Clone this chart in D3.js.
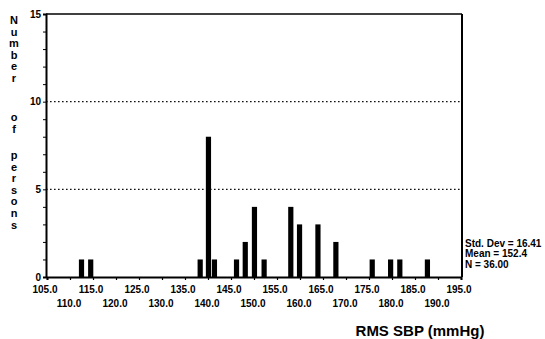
<!DOCTYPE html>
<html>
<head>
<meta charset="utf-8">
<script src="https://cdn.jsdelivr.net/npm/d3@7/dist/d3.min.js"></script>
<style>
  html, body { margin: 0; padding: 0; background: #fff; }
  svg { display: block; }
  text { font-family: "Liberation Sans", Arial, sans-serif; font-weight: bold; fill: #000; }
  .vword { writing-mode: vertical-rl; text-orientation: upright; }
</style>
</head>
<body>
<svg id="chart" width="545" height="339"></svg>
<script>
// Histogram of RMS systolic blood pressure (bin centres, mmHg) and counts
const sbpValues = [112.5, 114.5, 138.3, 140.1, 141.4, 146.2, 148.1, 150.1, 152.2,
                   158.0, 159.9, 163.9, 167.8, 175.7, 179.7, 181.7, 187.7];
const personCounts = [1, 1, 1, 8, 1, 1, 2, 4, 1, 4, 3, 3, 2, 1, 1, 1, 1];

const xUpperTicks = [105, 115, 125, 135, 145, 155, 165, 175, 185, 195];
const xLowerTicks = [110, 120, 130, 140, 150, 160, 170, 180, 190];
const yTicks = [0, 5, 10, 15];
const yGridLevels = [5, 10];
const statLines = ["Std. Dev = 16.41", "Mean = 152.4", "N = 36.00"];
const yTitleWords = ["Number", "of", "persons"];
const xTitle = "RMS SBP (mmHg)";

const svg = d3.select("#chart");
const plotL = 46, plotR = 462, plotT = 14, plotB = 277;

const x = d3.scaleLinear().domain([105, 195]).range([plotL + 1, plotR - 1]);
const y = d3.scaleLinear().domain([0, 15]).range([plotB, plotT]);

// dotted reference lines
svg.append("g").selectAll("line").data(yGridLevels).join("line")
  .attr("x1", plotL).attr("x2", plotR)
  .attr("y1", d => y(d)).attr("y2", d => y(d))
  .attr("stroke", "#111").attr("stroke-width", 1.4)
  .attr("stroke-dasharray", "1.6,2.4");

// bars
const barW = 5.2;
svg.append("g").selectAll("rect").data(sbpValues).join("rect")
  .attr("x", d => x(d) - barW / 2)
  .attr("width", barW)
  .attr("y", (d, i) => y(personCounts[i]))
  .attr("height", (d, i) => plotB - y(personCounts[i]))
  .attr("fill", "#000");

// frame
svg.append("line").attr("x1", plotL).attr("x2", plotR).attr("y1", plotT).attr("y2", plotT)
  .attr("stroke", "#000").attr("stroke-width", 1.5);
svg.append("line").attr("x1", plotR).attr("x2", plotR).attr("y1", plotT).attr("y2", plotB)
  .attr("stroke", "#000").attr("stroke-width", 2);

// y axis with unit minor ticks
const yAxis = d3.axisLeft(y)
  .tickValues(d3.range(0, 16, 1))
  .tickSize(3)
  .tickFormat(d => yTicks.includes(d) ? d : "");
const gy = svg.append("g").attr("transform", `translate(${plotL},0)`).call(yAxis);
gy.select(".domain").attr("stroke", "#000").attr("stroke-width", 2);
gy.selectAll(".tick line").attr("stroke", "#000").attr("stroke-width", 1);
gy.selectAll(".tick text").attr("x", -5).attr("font-size", 10)
  .attr("font-family", "Liberation Sans, Arial, sans-serif").attr("font-weight", "bold");

// x axis: ticks every 5, labels in two staggered rows
const xAxis = d3.axisBottom(x).tickValues(d3.range(105, 196, 5)).tickSize(3).tickFormat("");
const gx = svg.append("g").attr("transform", `translate(0,${plotB})`).call(xAxis);
gx.select(".domain").attr("stroke", "#000").attr("stroke-width", 2);
gx.selectAll(".tick line").attr("stroke", "#000").attr("stroke-width", 1.2);

svg.append("g").selectAll("text").data(xUpperTicks).join("text")
  .attr("x", d => x(d) - 2).attr("y", 293)
  .attr("text-anchor", "middle").attr("font-size", 10)
  .text(d => d.toFixed(1));
svg.append("g").selectAll("text").data(xLowerTicks).join("text")
  .attr("x", d => x(d) - 1).attr("y", 307)
  .attr("text-anchor", "middle").attr("font-size", 10)
  .text(d => d.toFixed(1));

// vertical stacked y title: one upright vertical text per word
const wordStarts = [14, 111, 149];
svg.append("g").selectAll("text").data(yTitleWords).join("text")
  .attr("class", "vword")
  .attr("x", 14).attr("y", (d, i) => wordStarts[i])
  .attr("font-size", 11)
  .attr("letter-spacing", -0.4)
  .text(d => d);

// x title
svg.append("text").attr("x", 420).attr("y", 336)
  .attr("text-anchor", "middle").attr("font-size", 15)
  .text(xTitle);

// summary statistics
svg.append("g").selectAll("text").data(statLines).join("text")
  .attr("x", 465).attr("y", (d, i) => 246.5 + i * 10.8)
  .attr("font-size", 10)
  .text(d => d);
</script>
</body>
</html>
